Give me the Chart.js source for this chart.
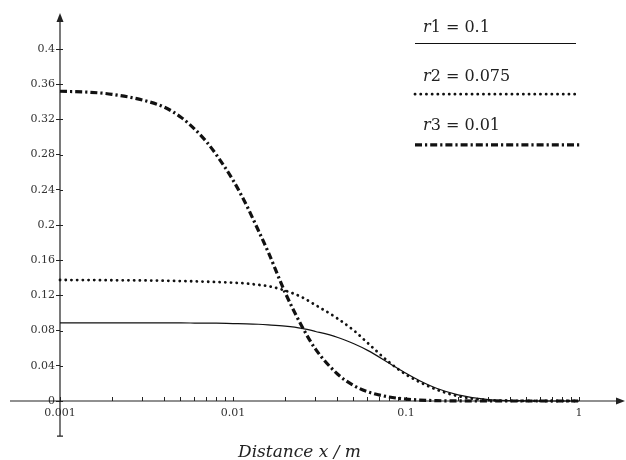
<!DOCTYPE html>
<html>
<head>
<meta charset="utf-8">
<script src="https://cdn.jsdelivr.net/npm/chart.js@4.4.1/dist/chart.umd.min.js"></script>
<style>
  html, body { margin: 0; padding: 0; background: #fff; }
  #wrap { width: 626px; height: 460px; }
</style>
</head>
<body>
<div id="wrap"><canvas id="chart"></canvas></div>
<script>
/* data */
let distances = [0.001, 0.0015, 0.002, 0.003, 0.004, 0.005, 0.006, 0.007, 0.008, 0.01, 0.012, 0.014, 0.016, 0.02,
    0.025, 0.03, 0.04, 0.05, 0.06, 0.08, 0.1, 0.12, 0.15, 0.2, 0.3, 0.5, 0.7, 1]
let seriesR1 = [0.0888, 0.0888, 0.0888, 0.0888, 0.0887, 0.0887, 0.0886, 0.0885, 0.0884, 0.0880, 0.0877, 0.0872, 0.0865, 0.0850,
    0.0825, 0.0790, 0.0725, 0.0650, 0.0575, 0.0430, 0.0315, 0.0230, 0.0145, 0.0070, 0.0015, 0.0002, 0, 0]
let seriesR2 = [0.1375, 0.1374, 0.1372, 0.1370, 0.1367, 0.1363, 0.1360, 0.1356, 0.1352, 0.1345, 0.1335, 0.1320, 0.1305, 0.1255,
    0.1180, 0.1090, 0.0940, 0.0800, 0.0660, 0.0440, 0.0300, 0.0215, 0.0130, 0.0055, 0.0010, 0.0001, 0, 0]
let seriesR3 = [0.352, 0.3508, 0.3485, 0.342, 0.334, 0.3225, 0.309, 0.295, 0.280, 0.251, 0.222, 0.194, 0.169, 0.1234,
    0.0850, 0.0590, 0.0310, 0.0175, 0.0105, 0.0045, 0.0022, 0.0011, 0.0004, 0.0001, 0, 0, 0, 0]

let seriesNames = ['r1', 'r2', 'r3']
let seriesParams = ['0.1', '0.075', '0.01']

let yTicks = [0, 0.04, 0.08, 0.12, 0.16, 0.2, 0.24, 0.28, 0.32, 0.36, 0.4]
let yTickLabels = ['0', '0.04', '0.08', '0.12', '0.16', '0.2', '0.24', '0.28', '0.32', '0.36', '0.4']
let xTicks = [0.001, 0.002, 0.003, 0.004, 0.005, 0.006, 0.007, 0.008, 0.009,
    0.01, 0.02, 0.03, 0.04, 0.05, 0.06, 0.07, 0.08, 0.09,
    0.1, 0.2, 0.3, 0.4, 0.5, 0.6, 0.7, 0.8, 0.9, 1]
let xTickLabels = { 0.001: '0.001', 0.01: '0.01', 0.1: '0.1', 1: '1' }
let xTitle = 'Distance x / m'

let ink = '#222'

function toPoints(values) {
    return distances.map((d, i) => ({ x: d, y: values[i] }))
}

// axes that cross at (0.001, 0), with arrow heads, plus the axis title
let crossAxes = {
    id: 'crossAxes',
    beforeDatasetsDraw(chart) {
        let ctx = chart.ctx
        let x = chart.scales.x
        let y = chart.scales.y
        let x0 = x.getPixelForValue(distances[0])
        let y0 = y.getPixelForValue(0)
        let yLow = y.getPixelForValue(-0.04)

        ctx.save()
        ctx.strokeStyle = ink
        ctx.fillStyle = ink
        ctx.lineWidth = 1.2
        ctx.beginPath()
        ctx.moveTo(x.left - 50, y0)
        ctx.lineTo(x.right + 40, y0)
        ctx.moveTo(x0, yLow)
        ctx.lineTo(x0, y.top - 30)
        // small cap at the bottom of the y axis
        ctx.moveTo(x0 - 3, yLow)
        ctx.lineTo(x0 + 3, yLow)
        ctx.stroke()

        // right-hand stubs of the y ticks
        ctx.lineWidth = 1
        ctx.beginPath()
        yTicks.forEach(v => {
            let py = Math.round(y.getPixelForValue(v)) + 0.5
            ctx.moveTo(x0, py)
            ctx.lineTo(x0 + 3, py)
        })
        ctx.stroke()

        // arrow heads
        ctx.beginPath()
        ctx.moveTo(x0, y.top - 36)
        ctx.lineTo(x0 - 3.5, y.top - 27)
        ctx.lineTo(x0 + 3.5, y.top - 27)
        ctx.closePath()
        ctx.fill()
        ctx.beginPath()
        ctx.moveTo(x.right + 46, y0)
        ctx.lineTo(x.right + 37, y0 - 3.5)
        ctx.lineTo(x.right + 37, y0 + 3.5)
        ctx.closePath()
        ctx.fill()

        ctx.font = 'italic 17px "DejaVu Serif"'
        ctx.textAlign = 'center'
        ctx.textBaseline = 'alphabetic'
        ctx.fillText(xTitle, (x.left + x.right) / 2 - 20, 457)
        ctx.restore()
    }
}

// legend in the top right: label above a sample of the line
let sideLegend = {
    id: 'sideLegend',
    afterDraw(chart) {
        let ctx = chart.ctx
        ctx.save()
        chart.data.datasets.forEach((ds, i) => {
            let base = 32 + i * 49
            let left = 423
            ctx.fillStyle = ink
            ctx.textBaseline = 'alphabetic'
            ctx.textAlign = 'left'
            ctx.font = 'italic 16px "DejaVu Serif"'
            ctx.fillText(seriesNames[i].charAt(0), left, base)
            let w = ctx.measureText(seriesNames[i].charAt(0)).width
            ctx.font = '16px "DejaVu Serif"'
            ctx.fillText(seriesNames[i].slice(1) + ' = ' + seriesParams[i], left + w, base)

            let ly = base + 11.5 + i * 1.7
            ctx.strokeStyle = ds.borderColor
            ctx.lineWidth = ds.borderWidth
            ctx.lineCap = ds.borderCapStyle || 'butt'
            ctx.setLineDash(ds.borderDash || [])
            ctx.beginPath()
            ctx.moveTo(415, ly)
            ctx.lineTo(576 + i * 3, ly)
            ctx.stroke()
        })
        ctx.restore()
    }
}

Chart.defaults.font.family = '"DejaVu Serif"'
Chart.defaults.color = '#333'

let ctx = document.querySelector('#chart').getContext('2d')

let chart = new Chart(ctx, {
    type: 'line',
    data: {
        datasets: [{
            label: seriesNames[0],
            data: toPoints(seriesR1),
            borderColor: '#111',
            borderWidth: 1.2,
        }, {
            label: seriesNames[1],
            data: toPoints(seriesR2),
            borderColor: '#111',
            borderWidth: 2.8,
            borderDash: [0.1, 5.6],
            borderCapStyle: 'round',
        }, {
            label: seriesNames[2],
            data: toPoints(seriesR3),
            borderColor: '#111',
            borderWidth: 3.2,
            borderDash: [7, 3, 2.2, 3],
            borderCapStyle: 'butt',
        }]
    },
    options: {
        responsive: true,
        maintainAspectRatio: false,
        animation: false,
        layout: { padding: { top: 49, right: 47, left: 0, bottom: 0 } },
        elements: {
            point: { radius: 0, hoverRadius: 0 },
            line: { cubicInterpolationMode: 'monotone', fill: false }
        },
        datasets: { line: { clip: false } },
        plugins: {
            legend: { display: false },
            tooltip: { enabled: false }
        },
        scales: {
            x: {
                type: 'logarithmic',
                position: 'bottom',
                min: 0.001,
                max: 1,
                border: { display: false },
                // negative tick length: marks stand up from the axis
                grid: { drawOnChartArea: false, tickLength: -4, color: ink, lineWidth: 1 },
                afterBuildTicks: (scale) => { scale.ticks = xTicks.map(v => ({ value: v })) },
                afterFit: (scale) => { scale.height = 59 },
                ticks: {
                    autoSkip: false,
                    maxRotation: 0,
                    padding: 10,
                    font: { size: 11 },
                    callback: (value) => xTickLabels[value] || ''
                }
            },
            y: {
                type: 'linear',
                position: 'left',
                min: 0,
                max: 0.4,
                border: { display: false },
                grid: { drawOnChartArea: false, tickLength: 4, color: ink, lineWidth: 1 },
                afterBuildTicks: (scale) => { scale.ticks = yTicks.map(v => ({ value: v })) },
                afterFit: (scale) => { scale.width = 60 },
                ticks: {
                    padding: 1,
                    font: { size: 11 },
                    callback: (value, index) => yTickLabels[index]
                }
            }
        }
    },
    plugins: [crossAxes, sideLegend]
})
</script>
</body>
</html>
